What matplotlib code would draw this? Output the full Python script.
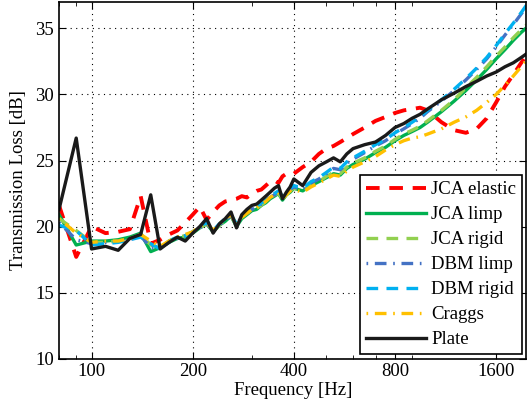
import matplotlib
matplotlib.use("Agg")
import matplotlib.pyplot as plt
from matplotlib.ticker import FixedLocator, NullFormatter, LogLocator

plt.rcParams['font.family'] = ['Liberation Serif', 'DejaVu Serif']

# frequency points [Hz]
freq = ([80, 90, 100, 110, 120, 130, 140, 150, 160,
         170, 180, 190, 200, 210, 220, 230, 240, 250, 260, 270, 280, 290, 300,
         310, 320, 330, 340, 350, 360, 370, 380, 390, 400,
         425, 450, 475, 500, 525, 550, 575, 600, 650, 700, 750, 800, 850, 900,
         950, 1000, 1100, 1200, 1300, 1400, 1500, 1600, 1700, 1800, 1900, 2000])

# transmission loss [dB]
jca_elastic = ([21.6, 17.7, 20.0, 19.5, 19.6, 19.8, 22.3, 18.7, 19.0,
                19.4, 19.7, 20.3, 20.9, 21.5, 20.5, 21.1, 21.6, 21.9, 22.0, 22.1, 22.3, 22.2, 22.5,
                22.7, 22.8, 23.1, 23.4, 23.5, 23.3, 23.8, 24.0, 24.1, 24.0,
                24.5, 24.9, 25.5, 25.9, 26.1, 26.4, 26.7, 27.0, 27.5, 28.0, 28.3, 28.6, 28.8, 28.9,
                29.0, 28.8, 27.9, 27.3, 27.1, 27.4, 28.2, 29.4, 30.6, 31.5, 32.4, 33.2])
jca_limp = ([20.9, 18.6, 18.9, 18.9, 19.0, 19.2, 19.5, 18.1, 18.4,
             18.8, 19.1, 19.2, 19.5, 19.9, 20.2, 19.6, 20.1, 20.4, 20.8, 20.0, 20.6, 20.9, 21.2,
             21.3, 21.6, 21.8, 22.1, 22.3, 22.5, 22.0, 22.4, 22.6, 22.9,
             22.7, 23.1, 23.4, 23.7, 24.0, 23.9, 24.4, 24.7, 25.1, 25.6, 26.0, 26.5, 26.9, 27.2,
             27.5, 27.9, 28.7, 29.5, 30.3, 31.1, 31.9, 32.7, 33.4, 34.1, 34.7, 35.2])
jca_rigid = ([20.6, 19.7, 18.8, 18.8, 18.9, 19.1, 19.4, 18.6, 18.4,
              18.9, 19.2, 19.3, 19.5, 19.9, 20.2, 19.6, 20.1, 20.5, 20.8, 20.1, 20.7, 21.0, 21.2,
              21.4, 21.6, 21.9, 22.1, 22.4, 22.5, 22.1, 22.4, 22.7, 22.9,
              22.7, 23.1, 23.4, 23.8, 24.1, 24.0, 24.5, 24.8, 25.2, 25.7, 26.1, 26.6, 27.0, 27.3,
              27.6, 28.0, 28.8, 29.6, 30.5, 31.3, 32.1, 32.9, 33.6, 34.3, 34.9, 35.4])
dbm_limp = ([20.3, 19.0, 18.7, 18.8, 18.9, 19.0, 19.3, 18.4, 18.4,
             18.8, 19.1, 19.3, 19.6, 19.9, 20.2, 19.7, 20.1, 20.5, 20.8, 20.2, 20.7, 21.0, 21.3,
             21.5, 21.7, 22.0, 22.2, 22.4, 22.6, 22.3, 22.5, 22.8, 23.0,
             22.8, 23.3, 23.6, 24.0, 24.4, 24.3, 24.8, 25.1, 25.6, 26.1, 26.5, 27.0, 27.4, 27.8,
             28.2, 28.7, 29.5, 30.3, 31.1, 31.9, 32.7, 33.6, 34.5, 35.3, 36.1, 36.9])
dbm_rigid = ([20.1, 19.7, 18.6, 18.7, 18.8, 19.0, 19.2, 18.7, 18.3,
              18.9, 19.2, 19.3, 19.6, 20.0, 20.3, 19.7, 20.2, 20.6, 20.9, 20.2, 20.8, 21.1, 21.4,
              21.5, 21.8, 22.0, 22.3, 22.5, 22.7, 22.3, 22.6, 22.9, 23.1,
              22.9, 23.4, 23.7, 24.1, 24.5, 24.4, 24.9, 25.2, 25.7, 26.2, 26.6, 27.1, 27.5, 27.9,
              28.3, 28.8, 29.6, 30.4, 31.2, 32.0, 32.8, 33.7, 34.6, 35.4, 36.2, 37.0])
craggs = ([20.6, 19.5, 18.8, 18.9, 18.9, 19.1, 19.4, 18.9, 18.5,
           18.9, 19.2, 19.4, 19.6, 20.0, 20.3, 19.7, 20.2, 20.6, 20.9, 20.1, 20.7, 21.0, 21.3,
           21.4, 21.7, 21.9, 22.2, 22.4, 22.6, 22.1, 22.4, 22.7, 22.8,
           22.6, 23.0, 23.3, 23.6, 23.9, 23.8, 24.2, 24.5, 24.9, 25.3, 25.8, 26.2, 26.5, 26.7,
           26.8, 27.0, 27.4, 27.9, 28.3, 28.8, 29.4, 30.0, 30.7, 31.4, 32.1, 32.8])
plate = ([21.3, 26.7, 18.3, 18.5, 18.2, 19.1, 19.4, 22.4, 18.3,
          18.8, 19.2, 18.9, 19.5, 20.0, 20.6, 19.5, 20.2, 20.6, 21.1, 19.9, 20.9, 21.3, 21.6,
          21.7, 22.0, 22.3, 22.6, 22.9, 23.1, 22.1, 22.6, 23.0, 23.6,
          23.1, 24.1, 24.6, 24.9, 25.2, 24.9, 25.5, 25.9, 26.2, 26.4, 26.9, 27.5, 27.8, 28.2,
          28.5, 28.9, 29.6, 30.1, 30.6, 31.0, 31.4, 31.7, 32.1, 32.4, 32.8, 33.2])

xticks = [100, 200, 400, 800, 1600]
yticks = [10, 15, 20, 25, 30, 35]

fig = plt.figure(figsize=(5.27, 4.15), dpi=100)
ax = fig.add_axes([0.112, 0.136, 0.887, 0.859])

lw = 2.4
ax.plot(freq, jca_elastic, color='#ff0000', lw=2.8, dashes=(3.5, 2.5), label='JCA elastic')
ax.plot(freq, jca_limp, color='#00b050', lw=lw, label='JCA limp')
ax.plot(freq, jca_rigid, color='#92d050', lw=lw, dashes=(3.5, 2.5), label='JCA rigid')
ax.plot(freq, dbm_limp, color='#4472c4', lw=lw, dashes=(0.5, 2, 3.5, 2), label='DBM limp')
ax.plot(freq, dbm_rigid, color='#00b0f0', lw=lw, dashes=(3.5, 2.5), label='DBM rigid')
ax.plot(freq, craggs, color='#ffc000', lw=lw, dashes=(0.5, 2, 3.5, 2), label='Craggs')
ax.plot(freq, plate, color='#1a1a1a', lw=lw, label='Plate')

ax.set_xscale('log')
ax.set_xlim(80, 1970)
ax.set_ylim(10, 37)
ax.xaxis.set_major_locator(FixedLocator(xticks))
ax.set_xticklabels([str(t) for t in xticks])
ax.xaxis.set_minor_locator(LogLocator(base=10, subs=range(2, 10)))
ax.xaxis.set_minor_formatter(NullFormatter())
ax.set_yticks(yticks)

ax.grid(True, which='major', linestyle=(0, (1, 4)), color='black', linewidth=0.8)
ax.tick_params(which='both', direction='in', top=True, right=True, labelsize=13.5)
ax.tick_params(which='major', length=5)
ax.tick_params(which='minor', length=3)
for s in ax.spines.values():
    s.set_linewidth(1.2)

ax.set_xlabel('Frequency [Hz]', fontsize=13.5, labelpad=1)
ax.set_ylabel('Transmission Loss [dB]', fontsize=13.5, labelpad=6)

leg = ax.legend(loc='lower right', fontsize=13.5, fancybox=False, framealpha=1,
                edgecolor='black', handlelength=3.2, labelspacing=0.42,
                borderpad=0.3, handletextpad=0.3, borderaxespad=0.25)
leg.get_frame().set_linewidth(1.2)

fig.savefig('out.png', dpi=100)
